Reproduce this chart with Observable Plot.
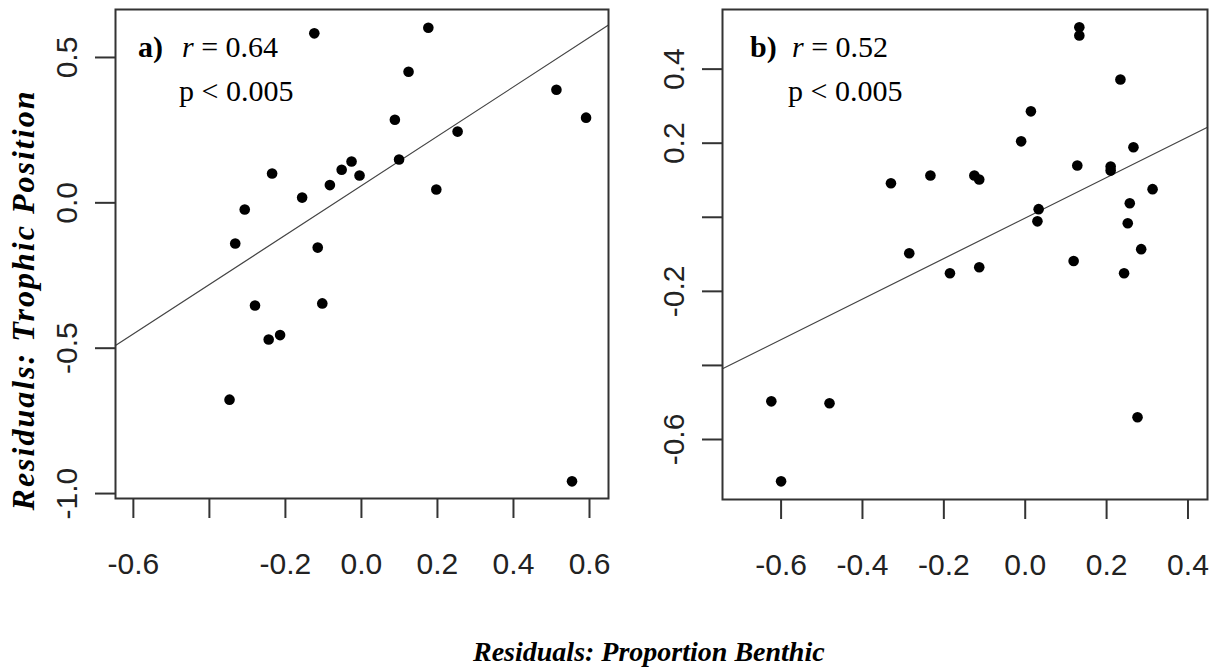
<!DOCTYPE html>
<html>
<head>
<meta charset="utf-8">
<script src="https://cdn.jsdelivr.net/npm/d3@7"></script>
<script src="https://cdn.jsdelivr.net/npm/@observablehq/plot@0.6"></script>
<style>
  html, body { margin: 0; padding: 0; background: #fff; }
  body { width: 1230px; height: 670px; position: relative; overflow: hidden; }
  .panel { position: absolute; top: 0; }
  .ann { position: absolute; font-family: "Liberation Serif", "Times New Roman", serif; font-size: 30px; line-height: 30px; color: #000; white-space: nowrap; }
  .ann b { font-weight: bold; }
  .ann i { font-style: italic; }
  .title { position: absolute; font-family: "Liberation Serif", "Times New Roman", serif; font-weight: bold; font-style: italic; color: #000; white-space: nowrap; line-height: 1; }
</style>
</head>
<body>
<div id="pa" class="panel" style="left:0"></div>
<div id="pb" class="panel" style="left:615px"></div>

<div class="ann" style="left:138px;top:32px"><b>a)</b></div>
<div class="ann" style="left:182px;top:32px"><i>r</i> = 0.64</div>
<div class="ann" style="left:179px;top:76px">p &lt; 0.005</div>

<div class="ann" style="left:750px;top:32px"><b>b)</b></div>
<div class="ann" style="left:792px;top:32px"><i>r</i> = 0.52</div>
<div class="ann" style="left:788px;top:76px">p &lt; 0.005</div>

<div id="ytitle" class="title" style="font-size:32px;letter-spacing:2px;left:23px;top:300px;transform:translate(-50%,-50%) rotate(-90deg);">Residuals: Trophic Position</div>
<div id="xtitle" class="title" style="font-size:28px;left:473px;top:638px;">Residuals: Proportion Benthic</div>

<script>
// ---- Panel a data ----
const aX = [-0.124, 0.176, 0.124, 0.513, 0.591, 0.088, 0.253, 0.099, -0.026, -0.052, -0.005, -0.235,
            -0.083, 0.197, -0.156, -0.307, -0.332, -0.115, -0.280, -0.103, -0.244, -0.214, -0.347, 0.554];
const aY = [0.583, 0.602, 0.451, 0.389, 0.293, 0.286, 0.245, 0.149, 0.142, 0.114, 0.094, 0.101,
            0.061, 0.046, 0.018, -0.023, -0.140, -0.154, -0.353, -0.346, -0.470, -0.455, -0.677, -0.958];

// ---- Panel b data ----
const bX = [0.133, 0.133, 0.234, 0.014, -0.010, 0.266, 0.128, 0.210, 0.210, -0.330, -0.233, -0.125, -0.113, 0.313,
            0.257, 0.033, 0.030, 0.252, -0.285, 0.285, 0.119, -0.113, -0.185, 0.243, -0.624, -0.481, 0.276, -0.600];
const bY = [0.513, 0.491, 0.372, 0.286, 0.205, 0.189, 0.140, 0.137, 0.126, 0.092, 0.113, 0.113, 0.102, 0.076,
            0.038, 0.022, -0.011, -0.016, -0.097, -0.086, -0.118, -0.135, -0.151, -0.151, -0.497, -0.502, -0.540, -0.713];

// ---- Fitted lines (intercept, slope) for panels a, b ----
const fitIntercept = [0.059, -0.002];
const fitSlope = [0.85, 0.547];

// ---- Axis limits and ticks ----
const xDomainA = [-0.647, 0.65];
const yDomainA = [-1.017, 0.665];
const xDomainB = [-0.744, 0.448];
const yDomainB = [-0.762, 0.561];

const xTicksA = [-0.6, -0.4, -0.2, 0, 0.2, 0.4, 0.6];
const xLabelsA = [-0.6, -0.2, 0, 0.2, 0.4, 0.6];
const yTicksA = [-1.0, -0.5, 0, 0.5];
const yLabelsA = [-1.0, -0.5, 0, 0.5];

const xTicksB = [-0.6, -0.4, -0.2, 0, 0.2, 0.4];
const xLabelsB = [-0.6, -0.4, -0.2, 0, 0.2, 0.4];
const yTicksB = [-0.6, -0.4, -0.2, 0, 0.2, 0.4];
const yLabelsB = [-0.6, -0.2, 0.2, 0.4];

function panel({xs, ys, xDomain, yDomain, xTicks, xLabels, yTicks, yLabels, intercept, slope, marginLeft, marginRight, marginBottom}) {
  const pts = xs.map((x, i) => ({x, y: ys[i]}));
  const fit = xDomain.map(x => ({x, y: intercept + slope * x}));
  return Plot.plot({
    width: 615,
    height: 590,
    marginLeft,
    marginRight,
    marginTop: 9,
    marginBottom,
    x: {domain: xDomain},
    y: {domain: yDomain},
    style: {fontFamily: "'Liberation Sans', Arial, sans-serif", fontSize: "30px", color: "#222", background: "#fff", overflow: "visible"},
    marks: [
      Plot.axisX({ticks: xTicks, tickSize: 20, tickPadding: 34, stroke: "#333", strokeWidth: 2, fill: "#222", fontSize: 30,
                  tickFormat: d => xLabels.includes(d) ? d.toFixed(1) : "", label: null}),
      Plot.axisY({ticks: yTicks, tickSize: 20, tickPadding: 19, tickRotate: -90, stroke: "#333", strokeWidth: 2, fill: "#222", fontSize: 30,
                  tickFormat: d => yLabels.includes(d) ? d.toFixed(1) : "", label: null}),
      Plot.line(fit, {x: "x", y: "y", stroke: "#444", strokeWidth: 1.2}),
      Plot.dot(pts, {x: "x", y: "y", r: 5.3, fill: "#000", stroke: "none"}),
      Plot.frame({stroke: "#333", strokeWidth: 2})
    ]
  });
}

document.getElementById("pa").append(panel({
  xs: aX, ys: aY, xDomain: xDomainA, yDomain: yDomainA,
  xTicks: xTicksA, xLabels: xLabelsA, yTicks: yTicksA, yLabels: yLabelsA,
  intercept: fitIntercept[0], slope: fitSlope[0],
  marginLeft: 115, marginRight: 7, marginBottom: 92
}));

document.getElementById("pb").append(panel({
  xs: bX, ys: bY, xDomain: xDomainB, yDomain: yDomainB,
  xTicks: xTicksB, xLabels: xLabelsB, yTicks: yTicksB, yLabels: yLabelsB,
  intercept: fitIntercept[1], slope: fitSlope[1],
  marginLeft: 107, marginRight: 23, marginBottom: 91
}));
</script>
</body>
</html>
